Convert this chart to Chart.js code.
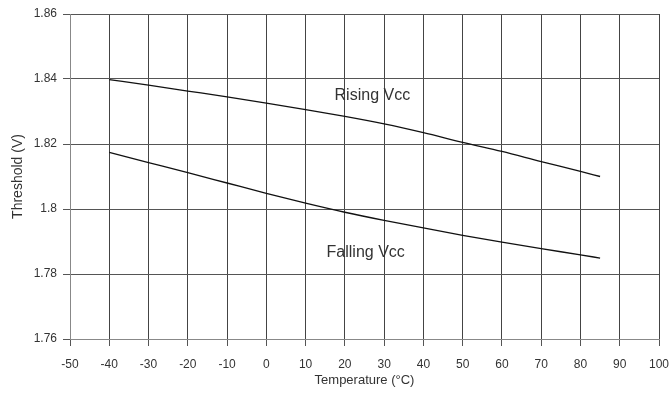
<!DOCTYPE html>
<html>
<head>
<meta charset="utf-8">
<script src="https://cdn.jsdelivr.net/npm/chart.js@4"></script>
<style>
  html, body { margin: 0; padding: 0; background: #fff; }
  #thresholdChart { display: block; }
</style>
</head>
<body>
<canvas id="thresholdChart" width="672" height="399"></canvas>
<script>
// temperatures (°C) where the curves were read
const temps = [-40, -30, -20, -10, 0, 10, 20, 30, 40, 50, 60, 70, 80, 85];
// threshold voltages (V)
const risingVcc = [1.8398, 1.8381, 1.8363, 1.8345, 1.8326, 1.8306, 1.8285, 1.8262, 1.8235, 1.8205, 1.8177, 1.8146, 1.8116, 1.8100];
const fallingVcc = [1.8174, 1.8143, 1.8112, 1.8080, 1.8048, 1.8018, 1.7990, 1.7965, 1.7942, 1.7919, 1.7898, 1.7878, 1.7859, 1.7849];
// axis ranges
const xTicks = [-50, 100, 10];
const yTicks = [1.76, 1.86, 0.02];
// curve labels placed in data units
const curveLabels = [
    { text: 'Rising Vcc', x: 27, y: 1.8348 },
    { text: 'Falling Vcc', x: 25.3, y: 1.7865 }
];

Chart.defaults.font.family = '"Liberation Sans", Arial, sans-serif';
Chart.defaults.font.size = 12;
Chart.defaults.color = '#333';

const toPoints = (ys) => temps.map((t, i) => ({ x: t, y: ys[i] }));

// draws the "Rising Vcc" / "Falling Vcc" text inside the plot
const curveLabelPlugin = {
    id: 'curveLabels',
    afterDatasetsDraw(chart) {
        const { ctx, scales: { x, y } } = chart;
        ctx.save();
        ctx.font = '16px "Liberation Sans", Arial, sans-serif';
        ctx.fillStyle = '#333';
        ctx.textAlign = 'center';
        ctx.textBaseline = 'middle';
        curveLabels.forEach(l => {
            ctx.fillText(l.text, x.getPixelForValue(l.x), y.getPixelForValue(l.y));
        });
        ctx.restore();
    }
};

const ctx = document.getElementById('thresholdChart').getContext('2d');
const thresholdChart = new Chart(ctx, {
    type: 'line',
    data: {
        datasets: [
            {
                label: 'Rising Vcc',
                data: toPoints(risingVcc),
                borderColor: '#111',
                borderWidth: 1.3,
                pointRadius: 0,
                cubicInterpolationMode: 'monotone',
                fill: false
            },
            {
                label: 'Falling Vcc',
                data: toPoints(fallingVcc),
                borderColor: '#111',
                borderWidth: 1.3,
                pointRadius: 0,
                cubicInterpolationMode: 'monotone',
                fill: false
            }
        ]
    },
    options: {
        responsive: false,
        animation: false,
        layout: { padding: { left: 0, right: 13, top: 14, bottom: 0 } },
        plugins: {
            legend: { display: false },
            tooltip: { enabled: false }
        },
        scales: {
            x: {
                type: 'linear',
                min: xTicks[0],
                max: xTicks[1],
                ticks: { stepSize: xTicks[2], padding: 11, color: '#333' },
                grid: { color: '#444', tickColor: '#555', tickLength: 7 },
                border: { color: '#888' },
                title: {
                    display: true,
                    text: 'Temperature (°C)',
                    color: '#333',
                    font: { size: 13 },
                    padding: { top: 0, bottom: 11 }
                },
                afterFit(scale) {
                    scale.height = 60;
                    scale.paddingLeft = 0;
                    scale.paddingRight = 0;
                }
            },
            y: {
                min: yTicks[0],
                max: yTicks[1],
                ticks: {
                    stepSize: yTicks[2],
                    padding: 6,
                    color: '#333',
                    callback: (value) => String(+value.toFixed(2))
                },
                grid: { color: '#555', tickColor: '#555', tickLength: 7 },
                border: { color: '#888' },
                title: {
                    display: true,
                    text: 'Threshold (V)',
                    color: '#333',
                    font: { size: 14 },
                    padding: { top: 10, bottom: 0 }
                },
                afterFit(scale) { scale.width = 70; }
            }
        }
    },
    plugins: [curveLabelPlugin]
});
</script>
</body>
</html>
